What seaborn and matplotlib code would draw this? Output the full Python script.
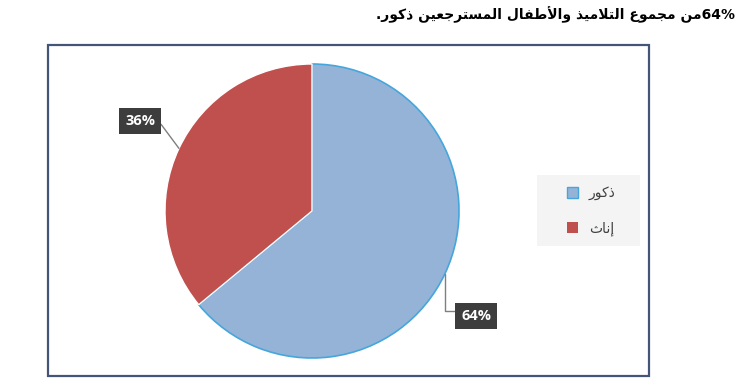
import re
import numpy as np
import matplotlib
matplotlib.use("Agg")
import matplotlib.pyplot as plt
from matplotlib.patches import Rectangle, Patch
import seaborn as sns

# ---- data ----
categories = ["ذكور", "إناث"]
values = [64, 36]
colors = ["#95b3d7", "#c0504d"]
title_text = "64%من مجموع التلاميذ والأطفال المسترجعين ذكور."

# ---- minimal Arabic shaping (matplotlib has no complex text layout) ----
FORMS = {
    'ا': (0xFE8D, False), 'أ': (0xFE83, False), 'إ': (0xFE87, False),
    'آ': (0xFE81, False), 'ب': (0xFE8F, True), 'ت': (0xFE95, True),
    'ث': (0xFE99, True), 'ج': (0xFE9D, True), 'ح': (0xFEA1, True),
    'خ': (0xFEA5, True), 'د': (0xFEA9, False), 'ذ': (0xFEAB, False),
    'ر': (0xFEAD, False), 'ز': (0xFEAF, False), 'س': (0xFEB1, True),
    'ش': (0xFEB5, True), 'ص': (0xFEB9, True), 'ض': (0xFEBD, True),
    'ط': (0xFEC1, True), 'ظ': (0xFEC5, True), 'ع': (0xFEC9, True),
    'غ': (0xFECD, True), 'ف': (0xFED1, True), 'ق': (0xFED5, True),
    'ك': (0xFED9, True), 'ل': (0xFEDD, True), 'م': (0xFEE1, True),
    'ن': (0xFEE5, True), 'ه': (0xFEE9, True), 'و': (0xFEED, False),
    'ي': (0xFEF1, True), 'ة': (0xFE93, False), 'ى': (0xFEEF, False),
}
LAMALEF = {'ا': 0xFEFB, 'أ': 0xFEF7, 'إ': 0xFEF9, 'آ': 0xFEF5}


def _info(x):
    if isinstance(x, tuple):
        return x[1], False
    return FORMS.get(x, (None, False))


def ar(text):
    items = []
    i = 0
    while i < len(text):
        c = text[i]
        if c == 'ل' and i + 1 < len(text) and text[i + 1] in LAMALEF:
            items.append(('LA', LAMALEF[text[i + 1]]))
            i += 2
            continue
        items.append(c)
        i += 1
    out = []
    for k, x in enumerate(items):
        base, dual = _info(x)
        if base is None:
            out.append(x)
            continue
        jp = k > 0 and _info(items[k - 1])[0] is not None and _info(items[k - 1])[1]
        jn = dual and k + 1 < len(items) and _info(items[k + 1])[0] is not None
        if jp and jn:
            code = base + 3
        elif jp:
            code = base + 1
        elif jn:
            code = base + 2
        else:
            code = base
        out.append(chr(code))
    vis = ''.join(out)[::-1]
    vis = re.sub(r'[0-9%]+', lambda m: m.group(0)[::-1], vis)
    return vis


sns.set_theme(style="white")
plt.rcParams['font.family'] = ['DejaVu Sans']

W, H = 747, 390
fig = plt.figure(figsize=(W / 100, H / 100), dpi=100)
fig.patch.set_facecolor("white")

# chart frame
fig.patches.append(Rectangle((48 / W, 1 - 376 / H), (649 - 48) / W, (376 - 45) / H,
                             transform=fig.transFigure, fill=False,
                             edgecolor="#45557a", linewidth=1.6, zorder=0))
# legend background
fig.patches.append(Rectangle((537 / W, 1 - 246 / H), (640 - 537) / W, (246 - 175) / H,
                             transform=fig.transFigure, facecolor="#f4f4f4",
                             edgecolor="none", zorder=0))

# pie axes: center (312, 211) px, radius 147 px
R = 147
half = 1.2 * R
cx, cy = 312, 211
ax = fig.add_axes([(cx - half) / W, (H - cy - half) / H, 2 * half / W, 2 * half / H])
ax.axis("off")

wedges, _ = ax.pie(values, colors=colors, startangle=90, counterclock=False,
                   radius=1.0, center=(0, 0), frame=False)
wedges[0].set_edgecolor("#45a6dc")
wedges[0].set_linewidth(1.2)
wedges[1].set_edgecolor("white")
wedges[1].set_linewidth(1.0)
ax.set_xlim(-1.2, 1.2)
ax.set_ylim(-1.2, 1.2)

# data labels
label_offsets = [(1.116, -0.714), (-1.17, 0.612)]
conn = ["angle,angleA=0,angleB=90,rad=0", "arc3,rad=0"]
rel = [(0, 0.85), (1, 0.85)]
for w, v, off, cs, rp in zip(wedges, values, label_offsets, conn, rel):
    ang = np.deg2rad((w.theta1 + w.theta2) / 2)
    xy = (np.cos(ang), np.sin(ang))
    ax.annotate(f"{v}%", xy=xy, xytext=off, ha="center", va="center",
                fontsize=10.5, fontweight="bold", color="white",
                family=["Open Sans", "DejaVu Sans"],
                bbox=dict(boxstyle="square,pad=0.42", fc="#3d3d3d", ec="none"),
                arrowprops=dict(arrowstyle="-", color="#7f7f7f", lw=1.0,
                                connectionstyle=cs, shrinkA=0, shrinkB=0,
                                relpos=rp))

# legend
handles = [Patch(facecolor=c, edgecolor=("#45a6dc" if i == 0 else "none"))
           for i, c in enumerate(colors)]
leg = fig.legend(handles, [ar(c) for c in categories], loc="center",
                 bbox_to_anchor=(591 / W, 1 - 211 / H), frameon=False,
                 fontsize=10, handlelength=0.8, handleheight=0.8,
                 handletextpad=0.8, labelspacing=1.5)
for t in leg.get_texts():
    t.set_color("#404040")

# title text
fig.text(735 / W, 1 - 15 / H, ar(title_text), ha="right", va="center",
         fontsize=10, fontweight="bold", color="black", family=["DejaVu Sans"])

fig.savefig("out.png", dpi=100, facecolor="white")
